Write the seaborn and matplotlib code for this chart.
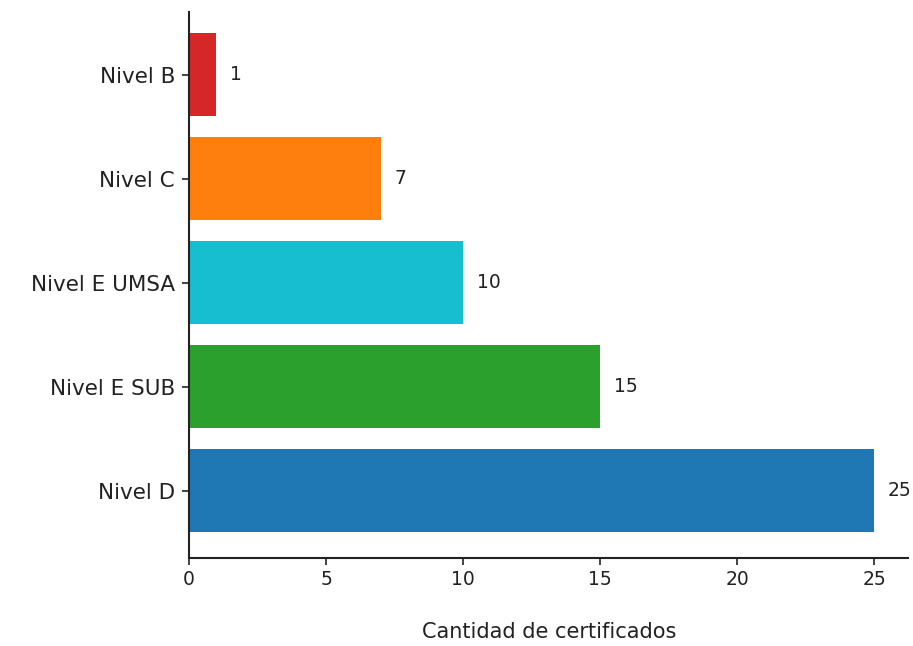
import matplotlib
matplotlib.use("Agg")
import matplotlib.pyplot as plt
import seaborn as sns
import pandas as pd

niveles = ['Nivel B', 'Nivel C', 'Nivel E UMSA', 'Nivel E SUB', 'Nivel D']
cantidad = [1, 7, 10, 15, 25]
colores = ['#d62728', '#ff7f0e', '#17becf', '#2ca02c', '#1f77b4']

df = pd.DataFrame({'nivel': niveles, 'cantidad': cantidad})

sns.set_style('ticks')
plt.rcParams['font.family'] = ['DejaVu Sans']

fig = plt.figure(figsize=(9.13, 6.46), dpi=100)
ax = fig.add_axes([0.207, 0.136, 0.788, 0.845])
sns.barplot(data=df, x='cantidad', y='nivel', hue='nivel', palette=colores,
            legend=False, width=0.8, saturation=1, linewidth=0, ax=ax)

for c in ax.containers:
    ax.bar_label(c, padding=10, fontsize=13.5, color='#222222')

ax.set_xlim(0, 26.25)
ax.set_ylim(4.65, -0.6)
ax.set_xticks([0, 5, 10, 15, 20, 25])
ax.set_xlabel('Cantidad de certificados', fontsize=15, color='#222222', labelpad=24)
ax.set_ylabel('')
ax.tick_params(axis='both', labelsize=13.5, colors='#222222', length=5, width=1.2)
ax.tick_params(axis='y', labelsize=15.5, pad=5)
for s in ['top', 'right']:
    ax.spines[s].set_visible(False)
for s in ['left', 'bottom']:
    ax.spines[s].set_linewidth(1.5)
    ax.spines[s].set_color('#222222')

fig.savefig('out.png', dpi=100)
